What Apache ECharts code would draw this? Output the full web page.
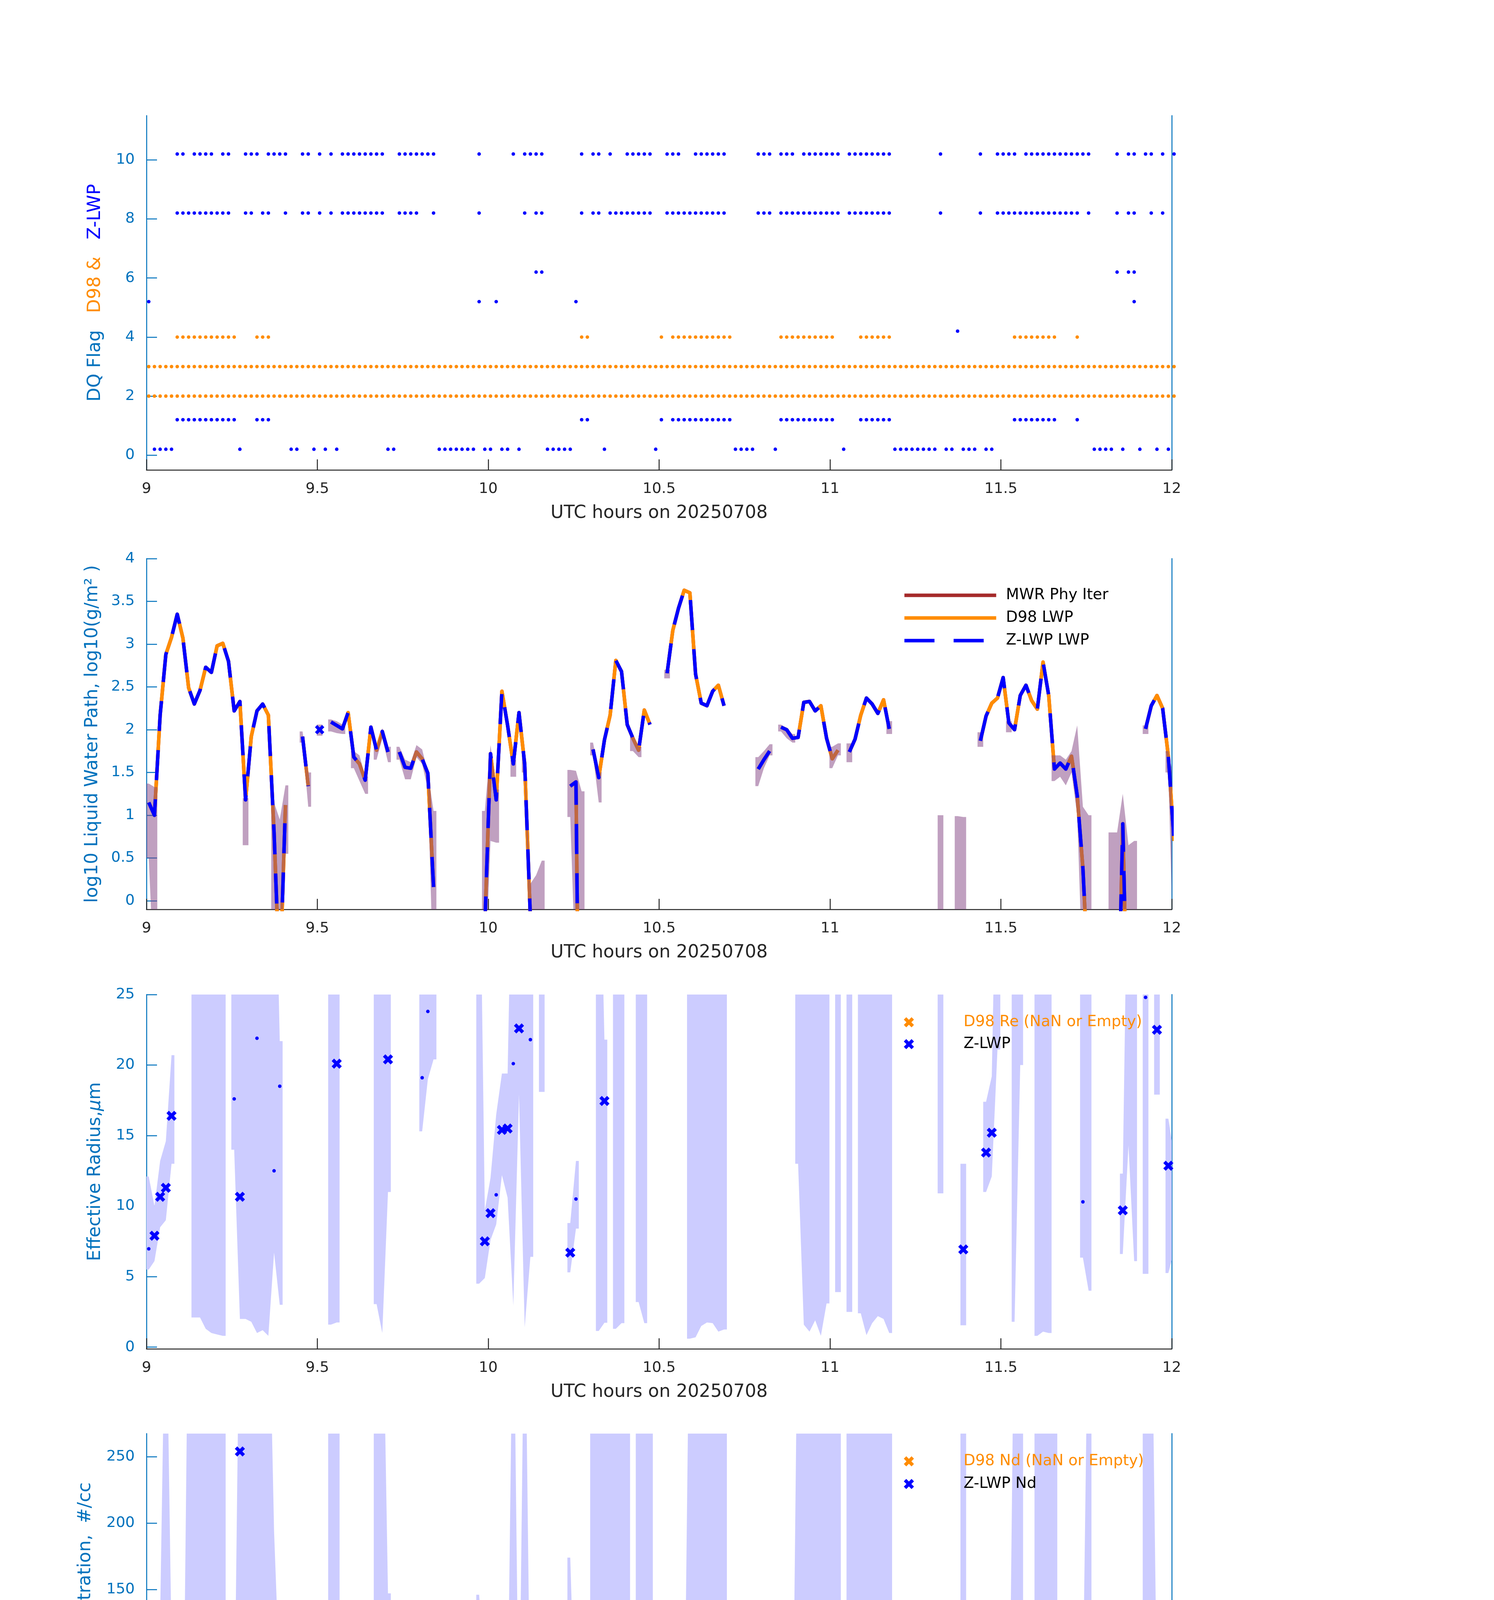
<!DOCTYPE html>
<html><head><meta charset="utf-8">
<script src="https://cdn.jsdelivr.net/npm/echarts@6/dist/echarts.min.js"></script>
<style>html,body{margin:0;padding:0;background:#fff}#c{width:3825px;height:6000px}</style>
</head><body><div id="c"></div>
<script>
// ================= DATA =================
// Samples are 1 minute apart starting 09:00 (index i -> 9 + (i+0.4)/60 h)
const T0_HOUR = 9;
const SAMPLE_OFFSET_MIN = 0.4;
const ZLWP_FLAG_OFFSET = 0.2;

// Tick values
const xTicksInterval = 0.5;
const flagTicks = [0, 2, 4, 6, 8, 10];
const lwpTicks = [0, 0.5, 1, 1.5, 2, 2.5, 3, 3.5, 4];
const reTicks = [0, 5, 10, 15, 20, 25];
const ndTicks = [0, 50, 100, 150, 200, 250];
const odTicks = [0, 20, 40, 60, 80, 100];

// ---- Panel 1: DQ flags, as [firstIndex, lastIndex] runs of minute samples ----
const d98Flag2 = [[0, 180]];
const d98Flag3 = [[0, 180]];
const d98Flag4 = [[5,15],[19,21],[76,77],[90,90],[92,102],[111,120],[125,130],[152,159],[163,163]];
const zlwpFlag0 = [[1,4],[16,16],[25,26],[29,29],[31,31],[33,33],[42,43],[51,57],[59,60],[62,63],[65,65],[70,74],[80,80],[89,89],[103,106],[110,110],[122,122],[131,138],[140,141],[143,145],[147,148],[166,169],[171,171],[174,174],[177,177],[179,179]];
const zlwpFlag1 = [[5,15],[19,21],[76,77],[90,90],[92,102],[111,120],[125,130],[152,159],[163,163]];
const zlwpFlag4 = [[142,142]];
const zlwpFlag5 = [[0,0],[58,58],[61,61],[75,75],[173,173]];
const zlwpFlag6 = [[68,69],[170,170],[172,173]];
const zlwpFlag8 = [[5,14],[17,18],[20,21],[24,24],[27,28],[30,30],[32,32],[34,41],[44,47],[50,50],[58,58],[66,66],[68,69],[76,76],[78,79],[81,88],[91,101],[107,109],[111,121],[123,130],[139,139],[146,146],[149,163],[165,165],[170,170],[172,173],[176,176],[178,178]];
const zlwpFlag10 = [[5,6],[8,11],[13,14],[17,19],[21,24],[27,28],[30,30],[32,32],[34,41],[44,50],[58,58],[64,64],[66,69],[76,76],[78,79],[81,81],[84,88],[91,93],[96,101],[107,109],[111,113],[115,121],[123,130],[139,139],[146,146],[149,152],[154,165],[170,170],[172,173],[175,176],[178,178],[180,180]];

// ---- Panel 2: log10 LWP per minute sample (null = missing) ----
const lwp = [
 1.15,1.00,2.17,2.88,3.08,3.35,3.07,2.49,2.30,2.46,
 2.73,2.67,2.98,3.01,2.80,2.22,2.33,1.18,1.92,2.22,
 2.30,2.17,0.80,-1.0,1.12,null,null,1.92,1.34,null,
 2.00,null,2.09,2.05,2.01,2.20,1.68,1.60,1.41,2.03,
 1.76,1.98,1.74,null,1.74,1.56,1.55,1.74,1.66,1.49,
 0.16,null,null,null,null,null,null,null,null,-0.3,
 1.72,1.18,2.45,2.05,1.60,2.20,1.60,-0.2,null,null,
 null,null,null,null,1.34,1.39,-5.0,null,1.77,1.44,
 1.88,2.17,2.81,2.68,2.06,1.90,1.76,2.23,2.06,null,
 null,2.66,3.16,3.42,3.63,3.60,2.65,2.31,2.28,2.45,
 2.52,2.28,null,null,null,null,null,1.54,1.65,1.75,
 null,2.03,2.00,1.90,1.91,2.32,2.33,2.22,2.28,1.90,
 1.66,1.76,null,1.74,1.89,2.17,2.37,2.30,2.19,2.35,
 2.01,null,null,null,null,null,null,null,null,null,
 null,null,null,null,null,null,1.87,2.16,2.31,2.37,
 2.61,2.08,2.00,2.40,2.52,2.34,2.24,2.79,2.40,1.54,
 1.61,1.54,1.69,1.23,0.38,-1.0,null,null,null,null,
 -2.0,0.90,-2.0,null,null,2.01,2.28,2.40,2.25,1.69,
 0.70
];
// LWP uncertainty band [index, low, high]
const lwpBand = [[0,0.5,1.37],[1,-1,1.33],[17,0.65,1.2],[22,-1,1.15],[23,-1,0.95],[24,0.55,1.35],[27,1.85,1.98],[28,1.1,1.5],[30,1.93,2.06],[32,1.98,2.12],[33,1.96,2.1],[34,1.95,2.06],[36,1.55,1.75],[37,1.4,1.7],[38,1.25,1.45],[40,1.65,1.8],[41,1.9,2.02],[42,1.62,1.8],[44,1.65,1.8],[45,1.42,1.65],[46,1.42,1.62],[47,1.68,1.82],[48,1.6,1.77],[49,1.3,1.5],[50,-1,1.05],[59,-1,1.05],[60,0.7,1.82],[61,0.68,1.3],[64,1.45,1.65],[66,1.5,1.7],[67,-1,0.2],[68,-1,0.3],[69,-1,0.47],[74,0.98,1.53],[75,-1,1.52],[76,-1,1.28],[78,1.7,1.85],[79,1.15,1.5],[85,1.75,1.95],[86,1.68,1.8],[91,2.6,2.7],[107,1.34,1.68],[108,1.55,1.75],[109,1.7,1.83],[111,1.98,2.06],[112,1.9,2.02],[113,1.85,1.95],[120,1.55,1.8],[121,1.7,1.84],[123,1.62,1.84],[130,1.95,2.1],[139,-1,1.0],[142,-1,0.99],[143,-1,0.98],[146,1.8,1.97],[151,1.97,2.1],[159,1.4,1.7],[160,1.45,1.7],[161,1.35,1.65],[162,1.5,1.75],[163,1.0,2.05],[164,-1,1.1],[165,-1,1.0],[169,-1,0.8],[170,-1,0.8],[171,-1,1.25],[172,-1,0.65],[173,-1,0.7],[175,1.95,2.05],[179,1.5,1.75],[180,-1,1.4]];

// ---- Panel 3: effective radius [index, value] ----
const reGood = [[1,7.9],[2,10.66],[3,11.3],[4,16.4],[16,10.66],[33,20.1],[42,20.4],[59,7.5],[60,9.5],[62,15.4],[63,15.5],[65,22.6],[74,6.7],[80,17.45],[143,6.93],[147,13.8],[148,15.2],[171,9.7],[177,22.5],[179,12.86]];
const reOther = [[0,6.97],[15,17.6],[19,21.9],[22,12.5],[23,18.5],[48,19.1],[49,23.8],[61,10.8],[64,20.1],[67,21.8],[75,10.5],[164,10.3],[175,24.8],[180,10.7]];
const reBand = [[0,5.5,12.1],[1,6.1,10.0],[2,8.5,13.2],[3,9.0,14.6],[4,13.0,20.7],[8,2.1,40],[9,2.1,40],[10,1.3,40],[11,1.0,40],[12,0.9,40],[13,0.8,40],[15,14.0,40],[16,2.0,40],[17,2.0,40],[18,1.8,40],[19,1.0,40],[20,1.2,40],[21,0.8,40],[22,6.7,40],[23,3.0,21.7],[32,1.6,40],[33,1.75,40],[40,3.05,40],[41,1.0,40],[42,11.0,40],[48,15.3,40],[49,19.0,40],[50,20.4,40],[58,4.5,40],[59,4.9,9.7],[60,7.6,12.0],[61,8.7,16.5],[62,12.2,19.4],[63,10.6,19.4],[64,2.95,40],[65,17.9,40],[66,1.4,40],[67,6.4,40],[69,18.1,40],[74,5.3,8.8],[75,8.4,13.2],[79,1.15,40],[80,1.73,21.8],[82,1.3,40],[83,1.7,40],[86,3.2,40],[87,1.7,40],[95,0.6,40],[96,0.7,40],[97,1.5,40],[98,1.75,40],[99,1.7,40],[100,1.1,40],[101,1.25,40],[114,13,40],[115,1.6,40],[116,1.1,40],[117,1.9,40],[118,0.8,40],[119,3.1,40],[121,3.9,40],[123,2.5,40],[125,2.4,40],[126,0.85,40],[127,1.7,40],[128,2.2,40],[129,2.0,40],[130,1.0,40],[139,10.9,40],[143,1.55,13.0],[147,11.0,17.4],[148,12.1,19.2],[149,21.1,40],[152,1.8,40],[153,20,40],[156,0.8,40],[157,1.1,40],[158,1.0,40],[164,6.35,40],[165,4.0,40],[171,6.6,12.3],[172,14.3,40],[173,6.1,40],[175,5.2,40],[177,17.9,40],[179,5.25,16.2],[180,6.8,13.6]];

// ---- Panel 4: droplet concentration ----
const ndGood = [[1,26.5],[2,65.2],[3,136.4],[4,54.2],[16,254],[33,20.3],[42,11.6],[59,6.0],[60,41.4],[62,22.4],[63,12.2],[65,13.5],[74,71],[80,12.4],[143,8.3],[147,15.1],[148,15.1],[171,12.4],[177,33.5],[179,12.8]];
const ndOther = [[0,25.2],[5,0.6],[6,0.3],[7,6.6],[8,4.1],[9,0.4],[10,0.8],[11,1.7],[12,8.9],[13,1.0],[14,1.0],[15,17.2],[17,0.3],[18,1.0],[19,4.6],[20,7.7],[21,3.1],[22,4.8],[23,0.3],[24,0.3],[27,0.3],[28,0.3],[30,1.0],[32,0.3],[34,0.4],[35,0.3],[36,0.3],[37,0.3],[38,0.3],[39,0.3],[40,0.3],[41,0.3],[44,0.3],[45,0.3],[46,0.3],[47,0.3],[48,2.1],[49,1.0],[50,0.3],[58,0.3],[61,5.2],[64,1.9],[66,2.5],[67,0.6],[68,0.3],[69,0.3],[75,15.3],[76,0.3],[78,0.3],[79,0.6],[81,0.3],[82,5.2],[83,29.6],[84,0.3],[85,0.3],[86,0.3],[87,0.3],[88,1.0],[91,1.7],[92,1.7],[93,1.7],[94,12.4],[95,5.6],[96,0.3],[97,0.3],[98,0.3],[99,0.4],[100,0.8],[101,1.2],[107,0.3],[108,0.3],[109,0.3],[111,0.3],[112,0.3],[113,0.3],[114,20],[115,0.6],[116,0.6],[117,1.4],[118,0.3],[119,0.3],[120,0.3],[121,0.3],[123,0.3],[124,0.3],[125,0.3],[126,0.6],[127,0.3],[128,0.3],[129,0.3],[130,0.3],[139,0.3],[146,0.3],[149,5.0],[150,2.7],[151,0.6],[152,2.1],[153,27.9],[154,0.6],[155,0.3],[156,0.6],[157,0.6],[158,0.3],[159,0.3],[160,0.3],[161,0.3],[162,0.3],[163,0.3],[164,4.1],[165,0.3],[170,0.3],[172,0.3],[173,0.3],[175,2.1],[176,0.8],[178,0.6],[180,3.9]];
const ndBand = [[0,1,82],[1,12.4,121],[2,34,130],[3,67,400],[4,27.5,108.6],[5,0,2],[6,0,2],[7,0.5,400],[8,0.8,400],[9,0.8,400],[10,0.8,400],[11,0.8,400],[12,3.5,400],[13,0.8,400],[15,2,34],[16,2,400],[17,1.5,400],[18,1.5,400],[19,1.5,400],[20,2.5,400],[21,1.5,400],[22,0.5,194],[23,0.3,79],[24,0.2,12],[32,0.2,400],[33,0.2,400],[40,0.2,400],[41,0.2,400],[42,0.2,147],[48,0,2.5],[49,0,2.5],[50,0,2],[58,0.2,146],[59,0.3,85.5],[60,20.7,85],[61,0.3,15.5],[62,15.5,45],[63,11.4,51.7],[64,0.2,400],[65,0.5,27],[66,0.2,400],[67,0.5,38],[74,13.4,174],[75,6,31.7],[76,0.2,1],[78,0.2,400],[79,0.2,400],[80,4.1,400],[81,0.2,400],[82,0.2,400],[83,0.2,400],[84,0.2,400],[86,0.2,400],[87,0.2,400],[88,0.2,400],[91,0.5,3],[92,0.5,3],[93,0.5,3],[94,0.3,24],[95,0.3,400],[96,0.3,400],[97,0.3,400],[98,0.3,400],[99,0.3,400],[100,0.3,400],[101,0.3,400],[113,0,2],[114,0.2,400],[115,0.2,400],[116,0.2,400],[117,0.2,400],[118,0.2,400],[119,0.2,400],[120,0.2,400],[121,0.2,400],[123,0.2,400],[124,0.2,400],[125,0.2,400],[126,0.2,400],[127,0.2,400],[128,0.2,400],[129,0.2,400],[130,0.2,400],[139,0,5.8],[143,1,400],[147,7.2,29.6],[148,7.2,30.6],[149,0.3,7.2],[150,0.3,3],[151,0.2,0.5],[152,0.3,400],[153,2,400],[156,0.2,400],[157,0.2,400],[158,0.2,400],[159,0.2,400],[164,0.3,75],[165,0.3,400],[171,6.2,117],[172,0.3,3],[173,0.3,67],[175,0.3,400],[176,0.3,400],[177,6.2,67],[179,6.2,62],[180,2,62]];

// ---- Panel 5: optical depth ----
const odGood = [[1,2.2],[2,17.4],[3,98.5],[16,30.6],[33,8.4],[42,4.2],[59,1.0],[60,8.4],[62,27.5],[63,10.3],[65,11.6],[74,4.9],[80,7.7],[143,0.2],[147,15.7],[148,19.8],[171,1.4],[177,16.5],[179,4.9]];
const odOther = [[0,2.8],[5,39],[6,12.8],[7,12.1],[8,8.2],[9,8.7],[10,12.8],[11,14.7],[12,43.3],[13,24.1],[14,17.3],[15,14.3],[17,0.4],[18,4.6],[19,11.9],[20,11.8],[21,8.7],[22,0.4],[23,0.1],[24,0.2],[27,1.2],[28,0.3],[30,3.5],[32,3.2],[34,2.3],[35,2.9],[36,0.6],[37,0.6],[38,0.5],[39,1.2],[40,1.0],[41,2.8],[44,0.6],[45,0.6],[46,0.85],[47,2.0],[48,4.0],[49,2.2],[50,0.1],[58,0.1],[61,2.2],[64,3.0],[66,2.2],[67,0.15],[68,0.15],[69,0.15],[75,3.6],[76,0.1],[78,0.7],[79,1.1],[81,3.9],[82,24.8],[83,24.8],[84,1.4],[85,1.2],[86,1.0],[87,4.8],[88,3.5],[91,15.9],[92,43.4],[93,42.1],[94,98.5],[96,14.5],[97,4.3],[98,4.1],[99,8.6],[100,12.6],[101,8.7],[107,0.46],[108,0.46],[109,0.4],[111,1.2],[112,1.3],[113,0.85],[114,4.9],[115,2.8],[116,4.3],[117,4.7],[118,3.0],[119,0.85],[120,0.6],[121,0.6],[123,0.85],[124,1.5],[125,2.2],[126,5.3],[127,3.5],[128,2.5],[129,3.1],[130,2.0],[139,0.15],[146,2.5],[149,13.0],[150,16.9],[151,3.2],[152,5.0],[153,14.2],[154,6.7],[155,4.3],[156,2.6],[157,13.3],[158,3.7],[159,0.46],[160,0.46],[161,0.46],[162,1.3],[163,0.46],[164,0.46],[165,0.1],[170,0.1],[172,0.15],[173,0.1],[175,6.3],[176,5.0],[178,5.0],[180,0.7]];
const odBand = [[0,0.2,6.2],[1,0.5,5.6],[2,12,20.3],[3,79,200],[4,88,200],[5,31,49.3],[6,11,16],[7,4.1,15.5],[8,5.3,200],[9,7.2,200],[10,10.5,200],[11,11.8,200],[12,34.6,200],[13,19.3,200],[14,13.1,21.9],[15,10.5,18],[16,10.5,200],[17,0.2,12.6],[18,5,200],[19,9.7,200],[20,9.7,200],[21,6.5,200],[22,0.2,3],[23,0,1.6],[24,0,0.5],[27,0,1.4],[28,0,0.6],[30,1,4.5],[32,2.8,200],[33,2.2,91],[34,1.6,2.8],[35,2.0,3.5],[36,0.3,0.8],[37,0.3,0.8],[38,0.3,0.7],[39,0.5,1.4],[40,0.8,23],[41,2,200],[42,1.2,7.6],[46,0.5,1.4],[47,1.2,2.5],[48,3.0,5.3],[49,1.5,3.0],[50,0,0.3],[58,0,3.9],[59,0,4.6],[60,5.9,11.2],[61,0.6,4.5],[62,21.9,34.6],[63,8.4,14.7],[64,2,19.6],[65,6.7,14.7],[66,1.0,38.4],[67,0.2,1.4],[68,0.2,0.8],[69,0.2,0.8],[74,1.8,8.9],[75,1.8,6],[76,0,0.3],[78,0,1],[79,0.5,31],[80,3,77],[81,3,4.5],[82,11,200],[83,5.3,200],[84,1.4,200],[85,0.8,1.6],[86,0.8,5],[87,4.5,200],[88,2.6,4],[91,13,20],[92,31.5,54.4],[93,29.2,52.8],[94,60,200],[95,150,200],[96,11.8,200],[97,4.5,200],[98,3.7,200],[99,6.8,200],[100,9.9,200],[101,5.3,200],[107,0.2,0.6],[108,0.2,0.6],[109,0.2,0.6],[111,0.3,1.8],[112,0.3,1.8],[113,0.3,1.3],[114,0.6,7.2],[115,1.0,200],[116,2.3,200],[117,2.3,200],[118,2.2,200],[119,1.4,110],[120,0.5,4.5],[121,0.6,22],[123,1,32],[124,1,3],[125,2,200],[126,3.5,200],[127,2.5,200],[128,2.9,200],[129,2.2,200],[130,1.4,200],[139,0,1.4],[143,0,5],[146,1.8,3.1],[147,12.6,19.6],[148,16,25],[149,10.5,16.2],[150,14,20.9],[151,2.2,3.5],[152,2.8,98],[153,4.5,17.6],[154,3,6],[155,2,5],[156,2.2,200],[157,10.8,200],[158,2,200],[159,0.4,0.6],[163,0.3,1.5],[164,0.3,3.7],[165,0.2,3.7],[171,0,3.7],[172,0,1.4],[173,0,1.4],[175,5.3,28.3],[176,3.3,5.9],[177,7.7,20.7],[178,4.1,6],[179,3.7,11.8],[180,0.2,3.7]];

// ================= STYLE / LAYOUT =================
const FONT = 'DejaVu Sans';
const AX_BLUE = '#0072BD', DARK = '#262626', ORANGE = '#FF8C00', BLUE = '#0000FF', BROWN = '#A52A2A';
const LAVENDER = '#CCCCFF', PURPLE = 'rgba(129,65,129,0.5)';
// heavy "x" marker
const XPATH = 'path://M0,2.4L2.4,0L5,2.6L7.6,0L10,2.4L7.4,5L10,7.6L7.6,10L5,7.4L2.4,10L0,7.6L2.6,5Z';
const HALF = 0.5 / 60;

const tOf = i => T0_HOUR + (i + SAMPLE_OFFSET_MIN) / 60;
const expand = runs => runs.flatMap(([a, b]) => Array.from({length: b - a + 1}, (_, k) => a + k));
const pts = pairs => pairs.map(([i, v]) => [tOf(i), v]);

const grids = [
  {left: 375, top: 296,  width: 2625, height: 907},
  {left: 375, top: 1430, width: 2625, height: 898},
  {left: 375, top: 2546, width: 2625, height: 907},
  {left: 375, top: 3670, width: 2625, height: 908},
  {left: 375, top: 4796, width: 2625, height: 907}
];
const yCfg = [
  {min: -0.5, max: 11.5, ticks: flagTicks, gap: 108, name: '{a|DQ Flag}   {b|D98 &}   {c|Z-LWP}'},
  {min: -0.1, max: 4, ticks: lwpTicks, gap: 115, name: 'log10 Liquid Water Path, log10(g/m\u00B2 )'},
  {min: -0.12, max: 25, ticks: reTicks, gap: 108, name: '{n|Effective Radius,}{i|\u03BC}{n|m}'},
  {min: 0, max: 267.5, ticks: ndTicks, gap: 133, name: 'Droplet Concentration,  #/cc'},
  {min: 0, max: 100, ticks: odTicks, gap: 133, name: 'Optical Depth'}
];
const nameRich = {
  a: {color: AX_BLUE, fontSize: 46, fontFamily: FONT},
  b: {color: ORANGE, fontSize: 46, fontFamily: FONT},
  c: {color: BLUE, fontSize: 46, fontFamily: FONT},
  n: {color: AX_BLUE, fontSize: 46, fontFamily: FONT},
  i: {color: AX_BLUE, fontSize: 46, fontFamily: FONT, fontStyle: 'italic'}
};

const xAxis = grids.map((g, k) => ({
  type: 'value', gridIndex: k, min: 9, max: 12, interval: xTicksInterval,
  axisLine: {show: true, onZero: false, lineStyle: {color: DARK, width: 2.5}},
  axisTick: {show: true, inside: true, length: 27, lineStyle: {color: DARK, width: 2.5}},
  axisLabel: {color: DARK, fontSize: 38, fontFamily: FONT, margin: 30},
  splitLine: {show: false},
  name: 'UTC hours on 20250708', nameLocation: 'middle', nameGap: 88,
  nameTextStyle: {color: DARK, fontSize: 46, fontFamily: FONT}
}));

const yAxis = yCfg.flatMap((c, k) => [{
  type: 'value', gridIndex: k, min: c.min, max: c.max, position: 'left',
  axisLine: {show: true, onZero: false, lineStyle: {color: AX_BLUE, width: 2.5}},
  axisTick: {show: true, inside: true, length: 27, customValues: c.ticks, lineStyle: {color: AX_BLUE, width: 2.5}},
  axisLabel: {show: true, customValues: c.ticks, color: AX_BLUE, fontSize: 38, fontFamily: FONT, margin: 30},
  splitLine: {show: false},
  name: c.name, nameLocation: 'middle', nameRotate: 90, nameGap: c.gap,
  nameTextStyle: {color: AX_BLUE, fontSize: 46, fontFamily: FONT, rich: nameRich}
}, {
  type: 'value', gridIndex: k, min: 0, max: 1, position: 'right',
  axisLine: {show: true, onZero: false, lineStyle: {color: AX_BLUE, width: 2.5}},
  axisTick: {show: false}, axisLabel: {show: false}, splitLine: {show: false}
}]);

function runsOf(band) {
  const runs = []; let cur = null;
  band.forEach(d => {
    if (cur && d[0] === cur[cur.length - 1][0] + 1) cur.push(d);
    else { cur = [d]; runs.push(cur); }
  });
  return runs;
}
function bandSeries(band, k, color, z) {
  const runs = runsOf(band);
  return {
    type: 'custom', xAxisIndex: k, yAxisIndex: 2 * k, z, silent: true, clip: true,
    data: runs.map(r => [tOf(r[0][0]), r[0][1]]),
    encode: {x: 0, y: 1},
    renderItem(params, api) {
      const r = runs[params.dataIndex];
      const a = r[0], b = r[r.length - 1];
      const up = [api.coord([tOf(a[0]) - HALF, a[2]])];
      r.forEach(d => up.push(api.coord([tOf(d[0]), d[2]])));
      up.push(api.coord([tOf(b[0]) + HALF, b[2]]));
      const dn = [api.coord([tOf(b[0]) + HALF, b[1]])];
      for (let j = r.length - 1; j >= 0; j--) dn.push(api.coord([tOf(r[j][0]), r[j][1]]));
      dn.push(api.coord([tOf(a[0]) - HALF, a[1]]));
      const cs = params.coordSys;
      return {
        type: 'polygon', shape: {points: up.concat(dn)}, style: {fill: color},
        clipPath: {type: 'rect', shape: {x: cs.x, y: cs.y, width: cs.width, height: cs.height}}
      };
    }
  };
}
function flagPoints(levelRuns, offset) {
  return levelRuns.flatMap(([lvl, runs]) => expand(runs).map(i => [tOf(i), lvl + offset]));
}

const lwpData = lwp.map((v, i) => [tOf(i), v === null ? '-' : v]);
const lwpIsolated = lwp.map((v, i) => [i, v])
  .filter(([i, v]) => v !== null && (i === 0 || lwp[i - 1] === null) && (i === lwp.length - 1 || lwp[i + 1] === null));

const DOT = 9;
const solid = c => ({color: c, opacity: 1});
const series = [
  // Panel 1
  {type: 'scatter', name: 'D98 flag', xAxisIndex: 0, yAxisIndex: 0, symbol: 'circle', symbolSize: DOT, clip: false, silent: true,
   itemStyle: solid(ORANGE), data: flagPoints([[2, d98Flag2], [3, d98Flag3], [4, d98Flag4]], 0)},
  {type: 'scatter', name: 'Z-LWP flag', xAxisIndex: 0, yAxisIndex: 0, symbol: 'circle', symbolSize: DOT, clip: false, silent: true,
   itemStyle: solid(BLUE), data: flagPoints([[0, zlwpFlag0], [1, zlwpFlag1], [4, zlwpFlag4], [5, zlwpFlag5], [6, zlwpFlag6], [8, zlwpFlag8], [10, zlwpFlag10]], ZLWP_FLAG_OFFSET)},
  // Panel 2
  {type: 'line', name: 'MWR Phy Iter', xAxisIndex: 1, yAxisIndex: 2, z: 2, symbol: 'none', showSymbol: false, silent: true,
   lineStyle: {color: BROWN, width: 9, join: 'round'}, itemStyle: {color: BROWN}, data: lwpData},
  {type: 'line', name: 'D98 LWP', xAxisIndex: 1, yAxisIndex: 2, z: 3, symbol: 'none', showSymbol: false, silent: true,
   lineStyle: {color: ORANGE, width: 9, join: 'round'}, itemStyle: {color: ORANGE}, data: lwpData},
  bandSeries(lwpBand, 1, PURPLE, 4),
  {type: 'line', name: 'Z-LWP LWP', xAxisIndex: 1, yAxisIndex: 2, z: 5, symbol: 'none', showSymbol: false, silent: true,
   lineStyle: {color: BLUE, width: 9, type: [77, 49], cap: 'butt', join: 'round'}, itemStyle: {color: BLUE}, data: lwpData},
  {type: 'scatter', name: 'Z-LWP LWP single', xAxisIndex: 1, yAxisIndex: 2, z: 6, symbol: XPATH, symbolSize: 24, silent: true,
   itemStyle: solid(BLUE), data: pts(lwpIsolated)},
  // Panel 3
  bandSeries(reBand, 2, LAVENDER, 2),
  {type: 'scatter', name: 'Re other', xAxisIndex: 2, yAxisIndex: 4, z: 3, symbol: 'circle', symbolSize: DOT, silent: true, itemStyle: solid(BLUE), data: pts(reOther)},
  {type: 'scatter', name: 'Z-LWP', xAxisIndex: 2, yAxisIndex: 4, z: 4, symbol: XPATH, symbolSize: 26, silent: true, itemStyle: solid(BLUE), data: pts(reGood)},
  {type: 'scatter', name: 'D98 Re (NaN or Empty)', xAxisIndex: 2, yAxisIndex: 4, z: 4, symbol: XPATH, symbolSize: 26, silent: true, itemStyle: solid(ORANGE), data: []},
  // Panel 4
  bandSeries(ndBand, 3, LAVENDER, 2),
  {type: 'scatter', name: 'Nd other', xAxisIndex: 3, yAxisIndex: 6, z: 3, symbol: 'circle', symbolSize: DOT, silent: true, itemStyle: solid(BLUE), data: pts(ndOther)},
  {type: 'scatter', name: 'Z-LWP Nd', xAxisIndex: 3, yAxisIndex: 6, z: 4, symbol: XPATH, symbolSize: 26, silent: true, itemStyle: solid(BLUE), data: pts(ndGood)},
  {type: 'scatter', name: 'D98 Nd (NaN or Empty)', xAxisIndex: 3, yAxisIndex: 6, z: 4, symbol: XPATH, symbolSize: 26, silent: true, itemStyle: solid(ORANGE), data: []},
  // Panel 5
  bandSeries(odBand, 4, LAVENDER, 2),
  {type: 'scatter', name: 'OD other', xAxisIndex: 4, yAxisIndex: 8, z: 3, symbol: 'circle', symbolSize: DOT, silent: true, itemStyle: solid(BLUE), data: pts(odOther)},
  {type: 'scatter', name: 'Z-LWP Nd', xAxisIndex: 4, yAxisIndex: 8, z: 4, symbol: XPATH, symbolSize: 26, silent: true, itemStyle: solid(BLUE), data: pts(odGood)},
  {type: 'scatter', name: 'D98 OD (NaN or Empty)', xAxisIndex: 4, yAxisIndex: 8, z: 4, symbol: XPATH, symbolSize: 26, silent: true, itemStyle: solid(ORANGE), data: []}
];

const legTxt = {fontSize: 39, fontFamily: FONT, color: '#000', lineHeight: 40};
const legend = [
  {orient: 'vertical', left: 2306, top: 1499, itemWidth: 235, itemHeight: 40, itemGap: 18, selectedMode: false,
   itemStyle: {opacity: 0}, lineStyle: {width: 9, opacity: 1},
   textStyle: Object.assign({}, legTxt, {padding: [0, 0, 0, 20]}),
   data: ['MWR Phy Iter', 'D98 LWP', 'Z-LWP LWP']},
  {orient: 'vertical', left: 2309, top: 2592, itemWidth: 270, itemHeight: 26, itemGap: 16, selectedMode: false, textStyle: legTxt,
   itemStyle: {opacity: 1},
   data: [{name: 'D98 Re (NaN or Empty)', textStyle: {color: ORANGE}}, {name: 'Z-LWP', textStyle: {color: '#000'}}]},
  {orient: 'vertical', left: 2309, top: 3716, itemWidth: 270, itemHeight: 26, itemGap: 18, selectedMode: false, textStyle: legTxt,
   itemStyle: {opacity: 1},
   data: [{name: 'D98 Nd (NaN or Empty)', textStyle: {color: ORANGE}}, {name: 'Z-LWP Nd', textStyle: {color: '#000'}}]},
  {orient: 'vertical', left: 2082, top: 5021, itemWidth: 276, itemHeight: 26, itemGap: 18, selectedMode: false, textStyle: legTxt,
   itemStyle: {opacity: 1},
   data: [{name: 'D98 OD (NaN or Empty)', textStyle: {color: ORANGE}}, {name: 'Z-LWP Nd', textStyle: {color: '#000'}}]}
];

const chart = echarts.init(document.getElementById('c'), null, {renderer: 'canvas', devicePixelRatio: 1});
chart.setOption({
  animation: false,
  backgroundColor: '#ffffff',
  textStyle: {fontFamily: FONT},
  grid: grids,
  xAxis, yAxis, legend, series
});
</script></body></html>
